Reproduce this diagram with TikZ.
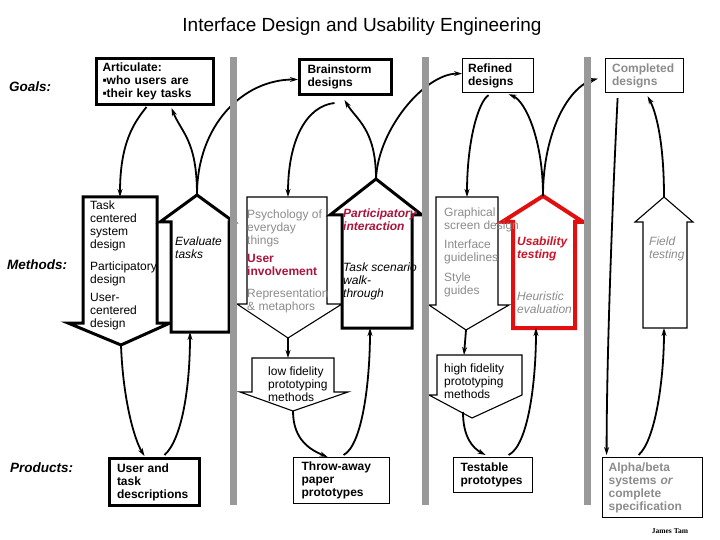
\documentclass[tikz,border=0pt]{standalone}
\usepackage{fontspec}
\setmainfont{Liberation Sans}
\newfontfamily\tamfont{Liberation Serif}
\usetikzlibrary{arrows.meta}

\definecolor{bargray}{RGB}{153,153,153}
\definecolor{txtgray}{RGB}{140,140,140}
\definecolor{crimson}{RGB}{170,20,60}
\definecolor{usared}{RGB}{205,20,40}
\definecolor{edgered}{RGB}{225,15,15}

\newcommand\bxfont{\fontsize{12}{13}\selectfont\bfseries}
\newcommand\txfont{\fontsize{12}{13}\selectfont}

\tikzset{
  conn/.style={line width=1.8pt,-{Stealth[length=8pt,width=5pt]}},
  blkthin/.style={draw,line width=1.1pt,fill=white,line join=miter},
  blkthick/.style={draw,line width=3pt,fill=white,line join=miter},
  box/.style={draw,line width=1.2pt,fill=white,anchor=north west,align=left,inner ysep=0pt,font=\bxfont},
  boxthick/.style={box,line width=3pt},
  blktext/.style={anchor=north west,align=left,inner sep=0pt,font=\txfont},
  graytext/.style={blktext,text=txtgray},
  redtext/.style={blktext,font=\txfont\bfseries\itshape},
  rowlabel/.style={anchor=west,inner sep=0pt,font=\fontsize{13.5}{15}\selectfont\bfseries\itshape},
  bar/.style={fill=bargray,draw=none}
}

\begin{document}
\begin{tikzpicture}[x=1pt,y=-1pt]
\useasboundingbox (0,0) rectangle (720,540);

\node (title) at (362,27) {\fontsize{19}{22}\selectfont Interface Design and Usability Engineering};

% row labels
\node[rowlabel] (goals) at (9,87) {Goals:};
\node[rowlabel] (methods) at (7,265) {Methods:};
\node[rowlabel] (products) at (10,468) {Products:};

% block arrows, methods row
\draw[blkthick] (83,197) -- (157,197) -- (157,323) -- (170,323) -- (121,345) coordinate (task-tip) -- (68,323) -- (83,323) -- cycle;
\coordinate (task-top) at (120,197);
\node[blktext] (task) at (90,200.5) {Task\\centered\\system\\design\\[8.7pt]Participatory\\design\\[5.7pt]User-\\centered\\design};

\draw[blkthick] (171,332) -- (229,332) -- (229,222) -- (234,222) -- (197,195) coordinate (eval-tip) -- (160,222) -- (171,222) -- cycle;
\coordinate (eval-bot) at (190,332);
\node[blktext,font=\txfont\itshape] (eval) at (175,237) {Evaluate\\tasks};

\draw[blkthin] (247,197) -- (327,197) -- (327,304) -- (342,304) -- (288,338) coordinate (psy-tip) -- (237,304) -- (247,304) -- cycle;
\coordinate (psy-top) at (288,197);
\node[graytext] (psy) at (247,209.5) {Psychology of\\everyday\\things};
\node[blktext,font=\txfont\bfseries,text=crimson] (involve) at (247,254.5) {User\\involvement};
\node[graytext] (repr) at (247,288.2) {Representation\\\& metaphors};

\draw[blkthick] (342,328) -- (412,328) -- (412,215) -- (422,215) -- (376,179) coordinate (part-tip) -- (330,215) -- (342,215) -- cycle;
\coordinate (part-bot) at (370,328);
\node[redtext,text=crimson] (part) at (343,208.5) {Participatory\\interaction};
\node[blktext,font=\txfont\itshape] (scenario) at (343,262.5) {Task scenario\\walk-\\through};

\draw[blkthin] (436,197) -- (498,197) -- (498,305) -- (509,305) -- (466,330) coordinate (gfx-tip) -- (429,305) -- (436,305) -- cycle;
\coordinate (gfx-top) at (467,197);

\draw[draw=edgered,fill=white,line width=4pt,line join=miter] (513,328) -- (575,328) -- (575,222) -- (583,222) -- (543,196) coordinate (usab-tip) -- (502,222) -- (513,222) -- cycle;
\coordinate (usab-bot) at (536,328);
\node[redtext,text=usared] (usab) at (517,237) {Usability\\testing};
\node[graytext,font=\txfont\itshape] (heur) at (517,291.2) {Heuristic\\evaluation};
\node[graytext] (gfx) at (444,207.5) {Graphical\\screen design\\[6.3pt]Interface\\guidelines\\[7pt]Style\\guides};

\draw[blkthin] (643,328) -- (687,328) -- (687,222) -- (693,222) -- (664,197) coordinate (field-tip) -- (635,222) -- (643,222) -- cycle;
\coordinate (field-bot) at (664,328);
\node[graytext,font=\txfont\itshape] (field) at (649,237) {Field\\testing};

% prototyping arrows
\draw[blkthin] (252,358) -- (334,358) -- (334,392) -- (348,392) -- (293,411) coordinate (lofi-tip) -- (240,392) -- (252,392) -- cycle;
\coordinate (lofi-top) at (288,358);
\node[blktext] (lofi) at (268,367) {low fidelity\\prototyping\\methods};

\draw[blkthin] (437,355) -- (522,355) -- (522,395) -- (472,418) -- (429,395) -- (437,395) -- cycle;
\coordinate (hifi-top) at (464,355);
\coordinate (hifi-out) at (463,412);
\node[blktext] (hifi) at (444,363.5) {high fidelity\\prototyping\\methods};

% goals
\node[boxthick,text width=105pt,inner xsep=6pt,minimum height=46pt] (artic) at (95,57) {Articulate:\\▪who users are\\▪their key tasks};
\node[boxthick,text width=76pt,inner xsep=8pt,minimum height=35pt] (brain) at (298,58) {Brainstorm\\designs};
\node[box,text width=60pt,inner xsep=5.5pt,minimum height=34pt] (refined) at (462,58) {Refined\\designs};
\node[box,text width=65pt,inner xsep=6.5pt,minimum height=34pt,text=txtgray] (compl) at (605,58) {Completed\\designs};

% products
\node[boxthick,text width=75pt,inner xsep=7.5pt,minimum height=47pt] (usrdesc) at (108,457) {User and\\task\\descriptions};
\node[box,text width=80pt,inner xsep=8pt,minimum height=46pt] (throwaway) at (293,457) {Throw-away\\paper\\prototypes};
\node[box,text width=65pt,inner xsep=7pt,minimum height=35pt] (testable) at (453,457) {Testable\\prototypes};
\node[box,text width=88pt,inner xsep=6pt,minimum height=60pt,text=txtgray] (alphabeta) at (602,457) {Alpha/beta\\systems \textit{or}\\complete\\specification};

% connectors
\draw[conn] ([shift={(-8.5,1)}]artic.south) .. controls +(-12,15) and +(0,-55) .. (task-top);
\draw[conn] (eval-tip) .. controls +(0,-55) and +(10,25) .. ([shift={(16.5,2)}]artic.south);
\draw[conn] (eval-tip) .. controls +(0,-70) and +(-55,0) .. ([shift={(0,2.5)}]brain.west);
\draw[conn] ([shift={(-11,7)}]brain.south) .. controls +(-28,3) and +(0,-57) .. (psy-top);
\draw[conn] (part-tip) .. controls +(0,-50) and +(12,20) .. ([shift={(-1,4)}]brain.south);
\draw[conn] (part-tip) .. controls +(2,-50) and +(-37,0) .. ([shift={(0,-2)}]refined.west);
\draw[conn] ([shift={(-9.5,2)}]refined.south) .. controls +(-10,6) and +(0,-57) .. (gfx-top);
\draw[conn] (usab-tip) .. controls +(0,-56) and +(17,7) .. ([shift={(10.5,1)}]refined.south);
\draw[conn] (usab-tip) .. controls +(0,-66) and +(-28,7) .. ([shift={(-7,3)}]compl.west);
\draw[conn] ([shift={(-27,5)}]compl.south) .. controls +(-5,100) and +(0,-100) .. ([shift={(-46,-2)}]alphabeta.north);
\draw[conn] (field-tip) .. controls +(0,-57) and +(8,15) .. ([shift={(3,3)}]compl.south);
\draw[conn] ([shift={(-14,-2)}]alphabeta.north) .. controls +(17,-15) and +(0,50) .. (field-bot);

\draw[conn] (task-tip) .. controls +(2,55) and +(-10,-16) .. ([shift={(-10,-1)}]usrdesc.north);
\draw[conn] ([shift={(10,-2)}]usrdesc.north) .. controls +(17,-15) and +(0,57) .. (eval-bot);
\draw[conn] (psy-tip) -- (lofi-top);
\draw[conn] (lofi-tip) .. controls +(0,29) and +(-17,-7) .. ([shift={(-14,0)}]throwaway.north);
\draw[conn] ([shift={(2,-2)}]throwaway.north) .. controls +(19,-10) and +(0,52) .. (part-bot);
\draw[conn] (gfx-tip) -- (hifi-top);
\draw[conn] (hifi-out) .. controls +(0,25) and +(-13,-7) .. ([shift={(-7.5,-2)}]testable.north);
\draw[conn] ([shift={(15.5,-2)}]testable.north) .. controls +(20,-10) and +(0,52) .. (usab-bot);

% phase bars
\fill[bar] (230,57) rectangle (237,505);
\fill[bar] (422,57) rectangle (429,505);
\fill[bar] (584,57) rectangle (591,505);

\node (sig) at (670,531) {\tamfont\bfseries\fontsize{7.5}{8}\selectfont James Tam};
\end{tikzpicture}
\end{document}
